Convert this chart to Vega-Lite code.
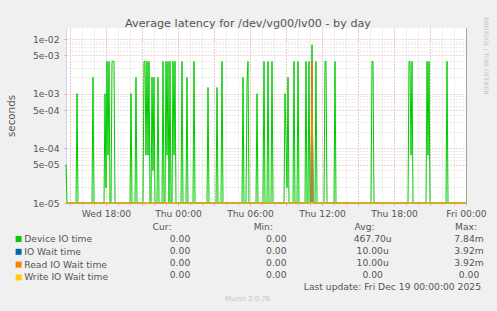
{
 "$schema": "https://vega.github.io/schema/vega-lite/v6.json",
 "width": 400, "height": 175,
 "autosize": {"type": "none"},
 "padding": {"left": 66, "top": 28, "right": 31, "bottom": 108},
 "background": "#F0F0F0",
 "view": {"fill": "#FFFFFF", "stroke": null},
 "title": {"text": "Average latency for /dev/vg00/lv00 - by day", "font": "DejaVu Sans", "fontSize": 11.2, "fontWeight": "normal", "color": "#555555", "anchor": "middle", "frame": "group", "dx": -18, "offset": -12},
 "config": {
  "font": "DejaVu Sans",
  "axis": {"labelFont": "DejaVu Sans", "labelFontSize": 9.2, "labelColor": "#555555", "titleFont": "DejaVu Sans"}
 },
 "datasets": {
  "dev": [
   {"t": "2025-12-17T14:40Z", "v": 0.00005}, {"t": "2025-12-17T14:45Z", "v": 0},
   {"t": "2025-12-17T15:30Z", "v": 0}, {"t": "2025-12-17T15:35Z", "v": 0.001}, {"t": "2025-12-17T15:40Z", "v": 0},
   {"t": "2025-12-17T16:50Z", "v": 0}, {"t": "2025-12-17T16:55Z", "v": 0.002}, {"t": "2025-12-17T17:00Z", "v": 0},
   {"t": "2025-12-17T17:50Z", "v": 0}, {"t": "2025-12-17T17:55Z", "v": 0.001}, {"t": "2025-12-17T18:00Z", "v": 0.000019},
   {"t": "2025-12-17T18:05Z", "v": 0.0039}, {"t": "2025-12-17T18:10Z", "v": 0.000075}, {"t": "2025-12-17T18:15Z", "v": 0.0039},
   {"t": "2025-12-17T18:20Z", "v": 0}, {"t": "2025-12-17T18:25Z", "v": 0}, {"t": "2025-12-17T18:30Z", "v": 0.0039},
   {"t": "2025-12-17T18:35Z", "v": 0.0039}, {"t": "2025-12-17T18:40Z", "v": 0.0039}, {"t": "2025-12-17T18:45Z", "v": 0},
   {"t": "2025-12-17T20:00Z", "v": 0}, {"t": "2025-12-17T20:05Z", "v": 0.001}, {"t": "2025-12-17T20:10Z", "v": 0},
   {"t": "2025-12-17T20:25Z", "v": 0}, {"t": "2025-12-17T20:30Z", "v": 0.002}, {"t": "2025-12-17T20:35Z", "v": 0},
   {"t": "2025-12-17T21:05Z", "v": 0}, {"t": "2025-12-17T21:10Z", "v": 0.0039}, {"t": "2025-12-17T21:15Z", "v": 0.0039},
   {"t": "2025-12-17T21:20Z", "v": 0.000075}, {"t": "2025-12-17T21:25Z", "v": 0.0039}, {"t": "2025-12-17T21:30Z", "v": 0.000075},
   {"t": "2025-12-17T21:35Z", "v": 0.0039}, {"t": "2025-12-17T21:40Z", "v": 0}, {"t": "2025-12-17T21:45Z", "v": 0},
   {"t": "2025-12-17T21:50Z", "v": 0.002}, {"t": "2025-12-17T21:55Z", "v": 0.000039}, {"t": "2025-12-17T22:00Z", "v": 0.002},
   {"t": "2025-12-17T22:05Z", "v": 0}, {"t": "2025-12-17T22:15Z", "v": 0}, {"t": "2025-12-17T22:20Z", "v": 0.002},
   {"t": "2025-12-17T22:25Z", "v": 0}, {"t": "2025-12-17T22:40Z", "v": 0}, {"t": "2025-12-17T22:45Z", "v": 0.0039},
   {"t": "2025-12-17T22:50Z", "v": 0}, {"t": "2025-12-17T22:55Z", "v": 0}, {"t": "2025-12-17T23:00Z", "v": 0.0039},
   {"t": "2025-12-17T23:05Z", "v": 0.000075}, {"t": "2025-12-17T23:10Z", "v": 0.0039}, {"t": "2025-12-17T23:15Z", "v": 0},
   {"t": "2025-12-17T23:20Z", "v": 0.0039}, {"t": "2025-12-17T23:25Z", "v": 0}, {"t": "2025-12-17T23:30Z", "v": 0},
   {"t": "2025-12-17T23:35Z", "v": 0.0039}, {"t": "2025-12-17T23:40Z", "v": 0.000075}, {"t": "2025-12-17T23:45Z", "v": 0.0039},
   {"t": "2025-12-17T23:50Z", "v": 0},
   {"t": "2025-12-18T00:15Z", "v": 0}, {"t": "2025-12-18T00:20Z", "v": 0.0039}, {"t": "2025-12-18T00:25Z", "v": 0},
   {"t": "2025-12-18T00:40Z", "v": 0}, {"t": "2025-12-18T00:45Z", "v": 0.002}, {"t": "2025-12-18T00:50Z", "v": 0},
   {"t": "2025-12-18T01:15Z", "v": 0}, {"t": "2025-12-18T01:20Z", "v": 0.0039}, {"t": "2025-12-18T01:25Z", "v": 0},
   {"t": "2025-12-18T02:25Z", "v": 0}, {"t": "2025-12-18T02:30Z", "v": 0.0013}, {"t": "2025-12-18T02:35Z", "v": 0},
   {"t": "2025-12-18T03:10Z", "v": 0}, {"t": "2025-12-18T03:15Z", "v": 0.0013}, {"t": "2025-12-18T03:20Z", "v": 0},
   {"t": "2025-12-18T03:35Z", "v": 0}, {"t": "2025-12-18T03:40Z", "v": 0.0039}, {"t": "2025-12-18T03:45Z", "v": 0},
   {"t": "2025-12-18T05:20Z", "v": 0}, {"t": "2025-12-18T05:25Z", "v": 0.002}, {"t": "2025-12-18T05:30Z", "v": 0},
   {"t": "2025-12-18T05:40Z", "v": 0}, {"t": "2025-12-18T05:45Z", "v": 0.0015}, {"t": "2025-12-18T05:50Z", "v": 0.0039},
   {"t": "2025-12-18T05:55Z", "v": 0},
   {"t": "2025-12-18T06:30Z", "v": 0}, {"t": "2025-12-18T06:35Z", "v": 0.001}, {"t": "2025-12-18T06:40Z", "v": 0},
   {"t": "2025-12-18T07:05Z", "v": 0}, {"t": "2025-12-18T07:10Z", "v": 0.0039}, {"t": "2025-12-18T07:15Z", "v": 0},
   {"t": "2025-12-18T07:25Z", "v": 0}, {"t": "2025-12-18T07:30Z", "v": 0.0039}, {"t": "2025-12-18T07:35Z", "v": 0},
   {"t": "2025-12-18T07:45Z", "v": 0}, {"t": "2025-12-18T07:50Z", "v": 0.0039}, {"t": "2025-12-18T07:55Z", "v": 0},
   {"t": "2025-12-18T08:50Z", "v": 0}, {"t": "2025-12-18T08:55Z", "v": 0.001}, {"t": "2025-12-18T09:05Z", "v": 0.000019},
   {"t": "2025-12-18T09:10Z", "v": 0.002}, {"t": "2025-12-18T09:15Z", "v": 0},
   {"t": "2025-12-18T09:35Z", "v": 0}, {"t": "2025-12-18T09:40Z", "v": 0.0039}, {"t": "2025-12-18T09:45Z", "v": 0},
   {"t": "2025-12-18T09:55Z", "v": 0}, {"t": "2025-12-18T10:00Z", "v": 0.0039}, {"t": "2025-12-18T10:05Z", "v": 0},
   {"t": "2025-12-18T10:35Z", "v": 0}, {"t": "2025-12-18T10:40Z", "v": 0.0039}, {"t": "2025-12-18T10:45Z", "v": 0},
   {"t": "2025-12-18T10:50Z", "v": 0}, {"t": "2025-12-18T10:55Z", "v": 0.0039}, {"t": "2025-12-18T11:00Z", "v": 0},
   {"t": "2025-12-18T11:05Z", "v": 0}, {"t": "2025-12-18T11:10Z", "v": 0.00784}, {"t": "2025-12-18T11:15Z", "v": 0},
   {"t": "2025-12-18T11:25Z", "v": 0}, {"t": "2025-12-18T11:30Z", "v": 0.0039}, {"t": "2025-12-18T11:35Z", "v": 0},
   {"t": "2025-12-18T12:10Z", "v": 0}, {"t": "2025-12-18T12:15Z", "v": 0.0039}, {"t": "2025-12-18T12:20Z", "v": 0.0039},
   {"t": "2025-12-18T12:25Z", "v": 0},
   {"t": "2025-12-18T13:00Z", "v": 0}, {"t": "2025-12-18T13:05Z", "v": 0.0039}, {"t": "2025-12-18T13:10Z", "v": 0},
   {"t": "2025-12-18T16:05Z", "v": 0}, {"t": "2025-12-18T16:10Z", "v": 0.0039}, {"t": "2025-12-18T16:15Z", "v": 0.0039},
   {"t": "2025-12-18T16:20Z", "v": 0},
   {"t": "2025-12-18T19:10Z", "v": 0}, {"t": "2025-12-18T19:15Z", "v": 0.0039}, {"t": "2025-12-18T19:20Z", "v": 0.0039},
   {"t": "2025-12-18T19:25Z", "v": 0.000075}, {"t": "2025-12-18T19:30Z", "v": 0.0039}, {"t": "2025-12-18T19:35Z", "v": 0},
   {"t": "2025-12-18T20:40Z", "v": 0}, {"t": "2025-12-18T20:45Z", "v": 0.0039}, {"t": "2025-12-18T20:50Z", "v": 0.000075},
   {"t": "2025-12-18T20:55Z", "v": 0.0039}, {"t": "2025-12-18T21:00Z", "v": 0},
   {"t": "2025-12-18T22:20Z", "v": 0}, {"t": "2025-12-18T22:25Z", "v": 0.0039}, {"t": "2025-12-18T22:30Z", "v": 0},
   {"t": "2025-12-19T00:00Z", "v": 0}
  ],
  "iow": [
   {"t": "2025-12-17T14:40Z", "v": 0}, {"t": "2025-12-18T11:05Z", "v": 0}, {"t": "2025-12-18T11:10Z", "v": 0.00392},
   {"t": "2025-12-18T11:15Z", "v": 0}, {"t": "2025-12-19T00:00Z", "v": 0}
  ],
  "rd": [
   {"t": "2025-12-17T14:40Z", "v": 0}, {"t": "2025-12-18T11:05Z", "v": 0}, {"t": "2025-12-18T11:10Z", "v": 0.00392},
   {"t": "2025-12-18T11:15Z", "v": 0}, {"t": "2025-12-19T00:00Z", "v": 0}
  ],
  "wr": [
   {"t": "2025-12-17T14:40Z", "v": 0}, {"t": "2025-12-19T00:00Z", "v": 0}
  ],
  "hdr": [
   {"c": "Cur", "x": "Cur:"}, {"c": "Min", "x": "Min:"}, {"c": "Avg", "x": "Avg:"}, {"c": "Max", "x": "Max:"}
  ],
  "vals": [
   {"r": 1, "c": "Cur", "x": "0.00"}, {"r": 1, "c": "Min", "x": "0.00"}, {"r": 1, "c": "Avg", "x": "467.70u"}, {"r": 1, "c": "Max", "x": "7.84m"},
   {"r": 2, "c": "Cur", "x": "0.00"}, {"r": 2, "c": "Min", "x": "0.00"}, {"r": 2, "c": "Avg", "x": "10.00u"}, {"r": 2, "c": "Max", "x": "3.92m"},
   {"r": 3, "c": "Cur", "x": "0.00"}, {"r": 3, "c": "Min", "x": "0.00"}, {"r": 3, "c": "Avg", "x": "10.00u"}, {"r": 3, "c": "Max", "x": "3.92m"},
   {"r": 4, "c": "Cur", "x": "0.00"}, {"r": 4, "c": "Min", "x": "0.00"}, {"r": 4, "c": "Avg", "x": "0.00"}, {"r": 4, "c": "Max", "x": "0.00"}
  ],
  "upd": [{"x": "Last update: Fri Dec 19 00:00:00 2025"}],
  "ver": [{"x": "Munin 2.0.76"}],
  "wm": [{"x": "RRDTOOL / TOBI OETIKER"}]
 },
 "resolve": {"scale": {"x": "independent", "y": "independent"}},
 "layer": [
  {
   "data": {"name": "dev"},
   "mark": {"type": "line", "strokeWidth": 1},
   "encoding": {
    "x": {"field": "t", "type": "temporal", "scale": {"type": "utc", "domain": [1765982400000, 1766102400000], "nice": false},
      "axis": {"orient": "bottom", "grid": true, "gridColor": "#d6d6d6", "gridDash": [1, 2], "values": [1765983600000, 1765987200000, 1765990800000, 1765994400000, 1765998000000, 1766001600000, 1766005200000, 1766008800000, 1766012400000, 1766016000000, 1766019600000, 1766023200000, 1766026800000, 1766030400000, 1766034000000, 1766037600000, 1766041200000, 1766044800000, 1766048400000, 1766052000000, 1766055600000, 1766059200000, 1766062800000, 1766066400000, 1766070000000, 1766073600000, 1766077200000, 1766080800000, 1766084400000, 1766088000000, 1766091600000, 1766095200000, 1766098800000, 1766102400000], "labels": false, "ticks": true, "tickSize": 2, "tickColor": "#c8c8c8", "domain": true, "domainColor": "#CFD6F8", "title": null}},
    "y": {"field": "v", "type": "quantitative", "scale": {"type": "log", "domain": [0.00001, 0.0159], "clamp": true, "nice": false},
      "axis": {"orient": "left", "values": [0.00002, 0.00003, 0.00004, 0.00006, 0.00007, 0.00008, 0.00009, 0.0002, 0.0003, 0.0004, 0.0006, 0.0007, 0.0008, 0.0009, 0.002, 0.003, 0.004, 0.006, 0.007, 0.008, 0.009], "grid": true, "gridColor": "#d6d6d6", "gridDash": [1, 2], "labels": false, "ticks": false, "domain": true, "domainColor": "#CFD6F8", "title": null}},
    "color": {"datum": "Device IO time", "type": "nominal",
      "scale": {"domain": ["Device IO time", "IO Wait time", "Read IO Wait time", "Write IO Wait time"], "range": ["#00CC00", "#0066B3", "#FF8000", "#FFCC00"]},
      "legend": {"orient": "none", "legendX": -52, "legendY": 206.4, "title": null, "symbolType": "square", "symbolSize": 36, "symbolStrokeWidth": 0, "labelFont": "DejaVu Sans", "labelFontSize": 9.2, "labelColor": "#555555", "labelOffset": 1, "rowPadding": 2.8, "padding": 0,
        "encode": {"symbols": {"update": {"fill": {"scale": "color", "field": "value"}, "strokeWidth": {"value": 0}, "opacity": {"value": 1}}}}}}
   }
  },
  {
   "data": {"name": "iow"},
   "mark": {"type": "line", "strokeWidth": 1},
   "encoding": {
    "x": {"field": "t", "type": "temporal", "scale": {"type": "utc", "domain": [1765982400000, 1766102400000], "nice": false},
      "axis": {"orient": "bottom", "grid": true, "gridColor": "#eba3a3", "gridDash": [1, 2], "values": [1765983600000, 1765994400000, 1766005200000, 1766016000000, 1766026800000, 1766037600000, 1766048400000, 1766059200000, 1766070000000, 1766080800000, 1766091600000, 1766102400000], "labels": false, "ticks": true, "tickSize": 2, "tickColor": "#eba3a3", "domain": false, "title": null}},
    "y": {"field": "v", "type": "quantitative", "scale": {"type": "log", "domain": [0.00001, 0.0159], "clamp": true, "nice": false},
      "axis": {"orient": "left", "values": [0.00001, 0.00005, 0.0001, 0.0005, 0.001, 0.005, 0.01], "grid": true, "gridColor": "#eba3a3", "gridDash": [1, 2], "ticks": true, "tickSize": 2, "tickColor": "#eba3a3", "domain": false,
        "labelExpr": "replace(format(datum.value, '.0e'), 'e-', 'e-0')", "labelPadding": 5, "labelFontSize": 9.2, "labelColor": "#555555",
        "title": "seconds", "titleFontSize": 10.3, "titleFontWeight": "normal", "titleColor": "#555555", "titlePadding": 16}},
    "color": {"datum": "IO Wait time", "type": "nominal"}
   }
  },
  {
   "data": {"name": "rd"},
   "mark": {"type": "line", "strokeWidth": 1},
   "encoding": {
    "x": {"field": "t", "type": "temporal", "scale": {"type": "utc", "domain": [1765982400000, 1766102400000], "nice": false},
      "axis": {"orient": "bottom", "values": [1765994400000, 1766016000000, 1766037600000, 1766059200000, 1766080800000, 1766102400000], "labelExpr": "utcFormat(datum.value, '%a %H:%M')", "grid": false, "ticks": false, "domain": false, "labelPadding": 6, "labelFontSize": 9.2, "labelColor": "#555555", "labelFlush": false, "labelOverlap": false, "title": null}},
    "y": {"field": "v", "type": "quantitative", "scale": {"type": "log", "domain": [0.00001, 0.0159], "clamp": true, "nice": false}, "axis": null},
    "color": {"datum": "Read IO Wait time", "type": "nominal"}
   }
  },
  {
   "data": {"name": "wr"},
   "mark": {"type": "line", "strokeWidth": 1},
   "encoding": {
    "x": {"field": "t", "type": "temporal", "scale": {"type": "utc", "domain": [1765982400000, 1766102400000], "nice": false}, "axis": null},
    "y": {"field": "v", "type": "quantitative", "scale": {"type": "log", "domain": [0.00001, 0.0159], "clamp": true, "nice": false},
      "axis": {"orient": "right", "domain": true, "domainColor": "#a0a0a0", "labels": false, "ticks": false, "grid": false, "title": null}},
    "color": {"datum": "Write IO Wait time", "type": "nominal"}
   }
  },
  {
   "data": {"name": "hdr"},
   "mark": {"type": "text", "font": "DejaVu Sans", "fontSize": 9.2, "color": "#555555", "align": "center", "baseline": "middle"},
   "encoding": {
    "x": {"field": "c", "type": "nominal", "scale": {"type": "point", "domain": ["Cur", "Min", "Avg", "Max"], "range": [96, 400], "padding": 0}, "axis": null},
    "y": {"datum": 0, "type": "quantitative", "scale": {"domain": [0, 6], "range": [199, 271]}, "axis": null},
    "text": {"field": "x"}
   }
  },
  {
   "data": {"name": "vals"},
   "mark": {"type": "text", "font": "DejaVu Sans", "fontSize": 9.2, "color": "#555555", "align": "center", "baseline": "middle"},
   "encoding": {
    "x": {"field": "c", "type": "nominal", "scale": {"type": "point", "domain": ["Cur", "Min", "Avg", "Max"], "range": [114, 403], "padding": 0}, "axis": null},
    "y": {"field": "r", "type": "quantitative", "scale": {"domain": [0, 6], "range": [199, 271]}, "axis": null},
    "text": {"field": "x"}
   }
  },
  {
   "data": {"name": "upd"},
   "mark": {"type": "text", "font": "DejaVu Sans", "fontSize": 9.2, "color": "#555555", "align": "right", "baseline": "middle", "dx": 12},
   "encoding": {
    "x": {"datum": "Max", "type": "nominal", "scale": {"type": "point", "domain": ["Cur", "Min", "Avg", "Max"], "range": [114, 403], "padding": 0}, "axis": null},
    "y": {"datum": 5, "type": "quantitative", "scale": {"domain": [0, 6], "range": [199, 271]}, "axis": null},
    "text": {"field": "x"}
   }
  },
  {
   "data": {"name": "ver"},
   "mark": {"type": "text", "font": "DejaVu Sans", "fontSize": 6.9, "color": "#c4c4c4", "align": "center", "baseline": "middle", "dx": -28.7},
   "encoding": {
    "x": {"datum": "Min", "type": "nominal", "scale": {"type": "point", "domain": ["Cur", "Min", "Avg", "Max"], "range": [114, 403], "padding": 0}, "axis": null},
    "y": {"datum": 6, "type": "quantitative", "scale": {"domain": [0, 6], "range": [199, 271]}, "axis": null},
    "text": {"field": "x"}
   }
  },
  {
   "data": {"name": "wm"},
   "mark": {"type": "text", "font": "DejaVu Sans", "fontSize": 6, "color": "#c4c4c4", "align": "center", "baseline": "middle", "angle": 90, "dx": 0, "dy": -17},
   "encoding": {
    "x": {"datum": "Max", "type": "nominal", "scale": {"type": "point", "domain": ["Cur", "Min", "Avg", "Max"], "range": [114, 403], "padding": 0}, "axis": null},
    "y": {"datum": -14.25, "type": "quantitative", "scale": {"domain": [0, 6], "range": [199, 271]}, "axis": null},
    "text": {"field": "x"}
   }
  }
 ]
}
